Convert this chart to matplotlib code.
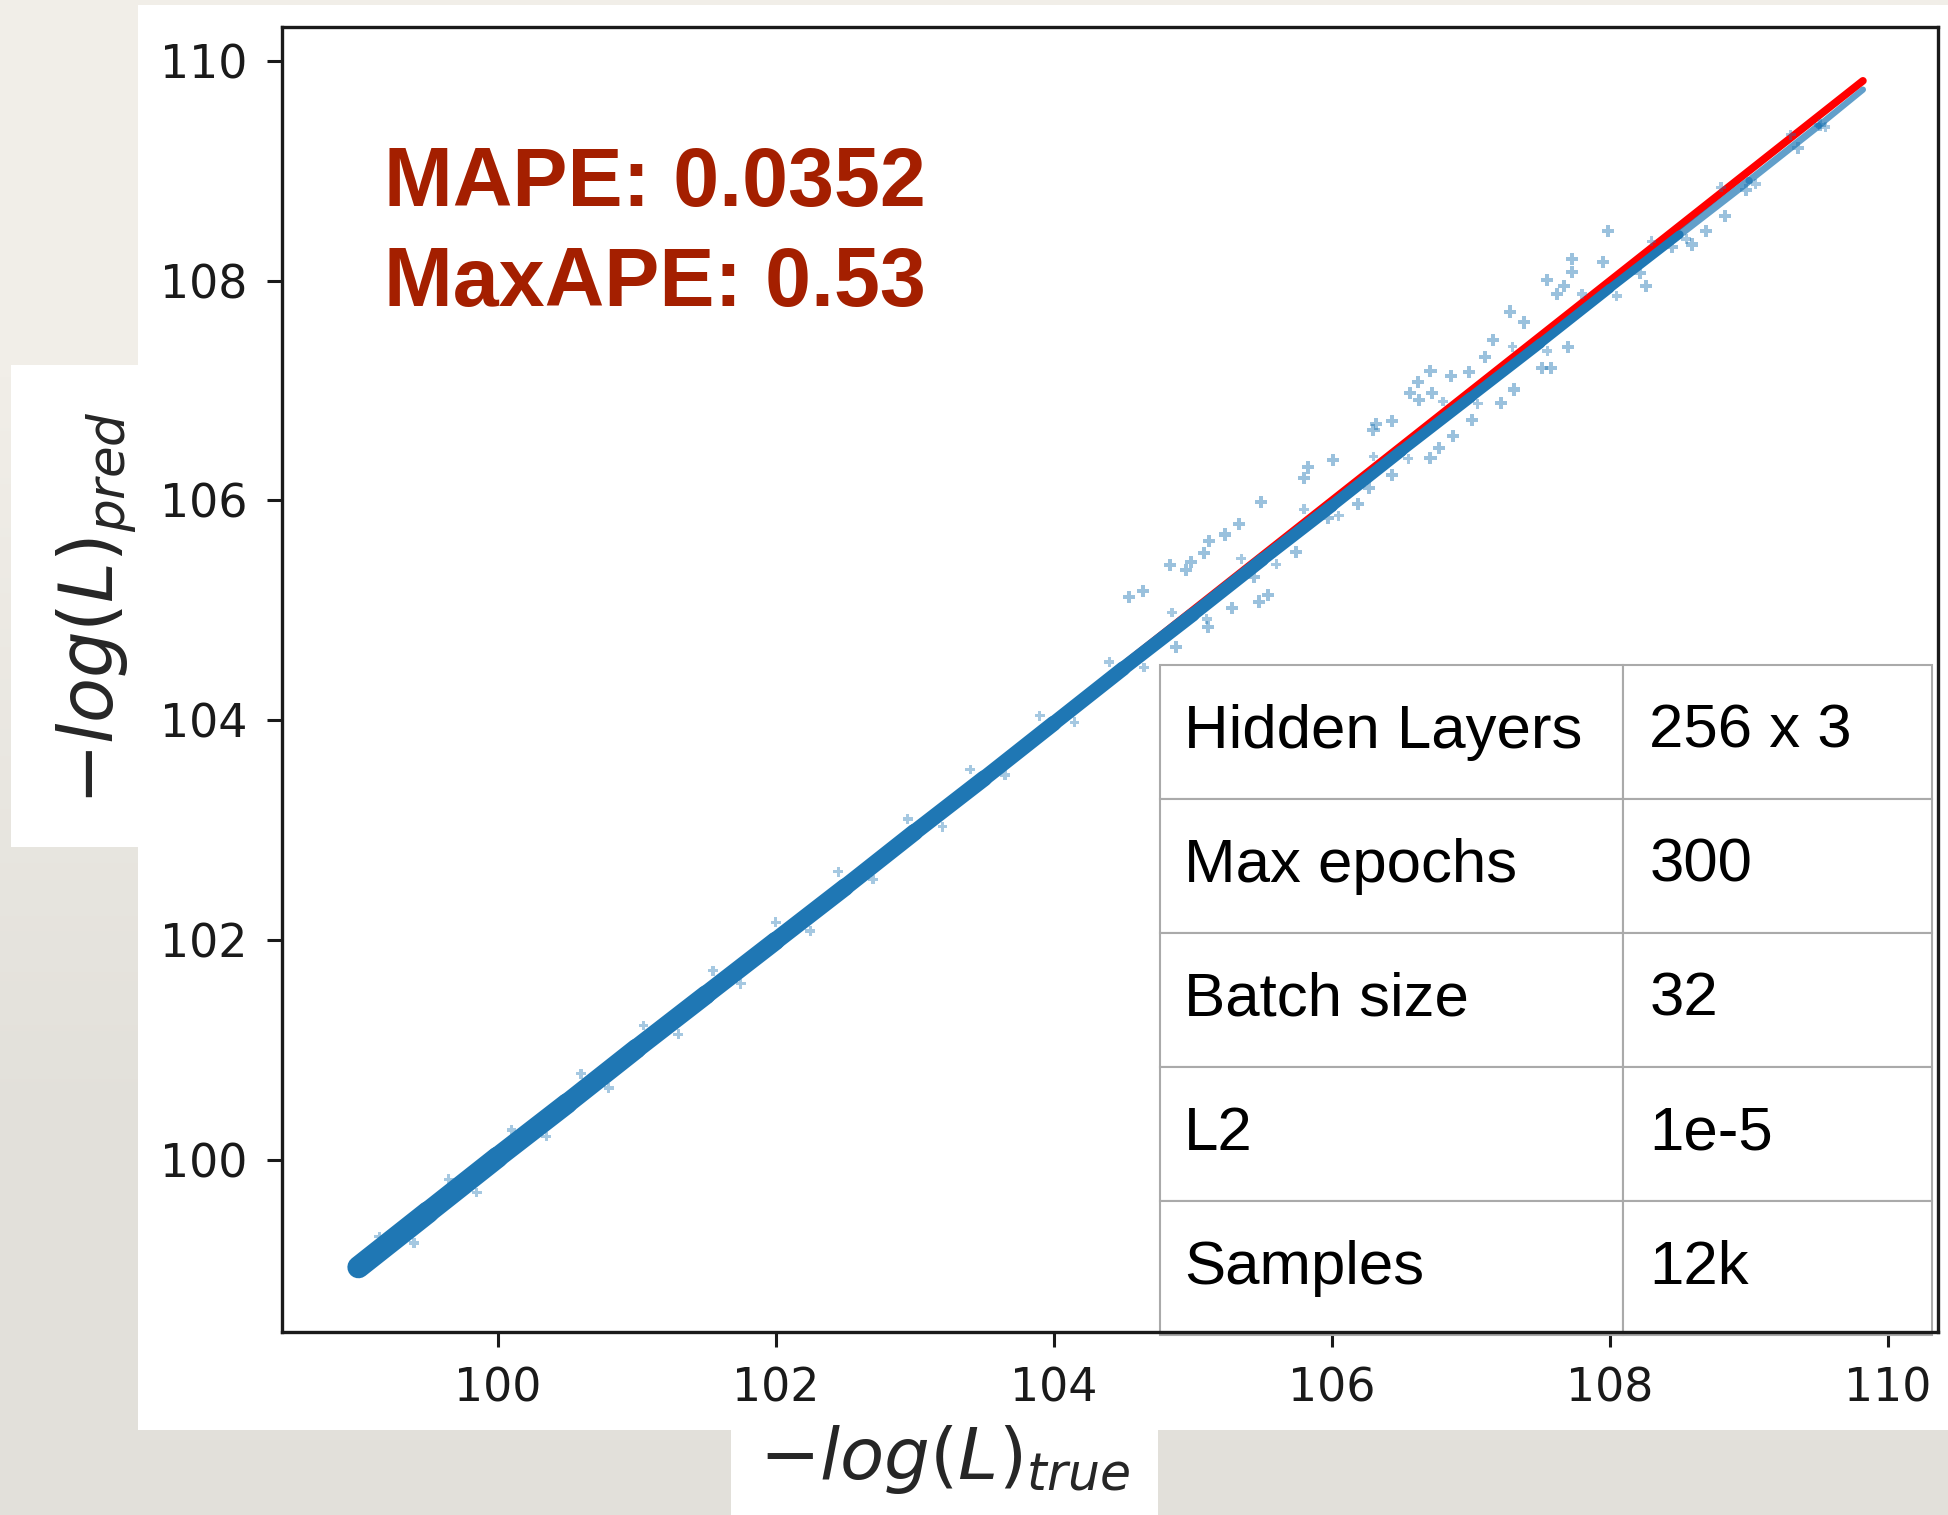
import matplotlib
matplotlib.use("Agg")
import matplotlib.pyplot as plt
import numpy as np
from matplotlib.collections import LineCollection
from matplotlib.patches import Rectangle

# centre of the dense point cloud, read along the diagonal
core_true = [99.0, 99.5, 100.0, 100.5, 101.0, 101.5, 102.0, 102.5, 103.0, 103.5,
             104.0, 104.5, 105.0, 105.5, 106.0, 106.5, 107.0, 107.5, 108.0, 108.5,
             109.0, 109.5, 109.82]
core_pred = [99.02, 99.52, 100.02, 100.51, 101.01, 101.50, 101.99, 102.48, 102.98, 103.47,
             103.97, 104.47, 104.96, 105.46, 105.95, 106.45, 106.94, 107.43, 107.93, 108.42,
             108.91, 109.41, 109.74]

# loose points at the edge of the band
fringe_true = [99.15, 99.40, 99.65, 99.85, 100.10, 100.35, 100.60, 100.80, 101.05, 101.30,
               101.55, 101.75, 102.00, 102.25, 102.45, 102.70, 102.95, 103.20, 103.40, 103.65,
               103.90, 104.15, 104.40, 104.65, 104.85, 105.10, 105.35, 105.60, 105.80, 106.05,
               106.30, 106.55, 106.80, 107.05, 107.30, 107.55, 107.80, 108.05, 108.30, 108.55,
               108.80, 109.05, 109.30, 109.55]
fringe_pred = [99.30, 99.24, 99.82, 99.70, 100.27, 100.21, 100.78, 100.65, 101.22, 101.14,
               101.72, 101.60, 102.16, 102.08, 102.62, 102.55, 103.10, 103.03, 103.55, 103.50,
               104.04, 103.98, 104.53, 104.48, 104.98, 104.92, 105.47, 105.42, 105.92, 105.86,
               106.40, 106.38, 106.90, 106.88, 107.40, 107.36, 107.88, 107.86, 108.36, 108.38,
               108.85, 108.88, 109.33, 109.40]

# scattered outliers (upper-right half of the chart)
outlier_true = [104.54, 104.64, 104.84, 104.95, 104.99, 105.08, 105.12, 105.23, 105.33, 105.49,
                105.80, 105.83, 106.01, 106.30, 106.32, 106.43, 106.56, 106.62, 106.71, 106.72,
                106.63, 106.86, 106.99, 107.10, 107.16, 107.28, 107.38, 107.55, 107.62, 107.67,
                107.73, 107.73, 107.95, 107.99,
                104.88, 105.11, 105.28, 105.44, 105.48, 105.54, 105.74, 105.97, 106.19, 106.27,
                106.43, 106.71, 106.77, 106.87, 107.01, 107.22, 107.31, 107.51, 107.58, 107.70,
                108.22, 108.26, 108.45, 108.59, 108.69, 108.83, 108.98, 109.35, 109.51]
outlier_pred = [105.12, 105.18, 105.41, 105.37, 105.44, 105.52, 105.63, 105.69, 105.79, 105.99,
                106.20, 106.30, 106.37, 106.64, 106.70, 106.72, 106.98, 107.08, 107.18, 106.98,
                106.91, 107.13, 107.17, 107.31, 107.46, 107.72, 107.62, 108.01, 107.88, 107.95,
                108.20, 108.08, 108.17, 108.45,
                104.67, 104.85, 105.02, 105.30, 105.08, 105.14, 105.53, 105.84, 105.97, 106.11,
                106.23, 106.39, 106.48, 106.59, 106.73, 106.89, 107.01, 107.21, 107.21, 107.40,
                108.07, 107.95, 108.31, 108.33, 108.45, 108.59, 108.83, 109.21, 109.42]

# y = x reference line
ideal_true = [99.0, 109.82]
ideal_pred = [99.0, 109.82]

x_ticks = [100, 102, 104, 106, 108, 110]
y_ticks = [100, 102, 104, 106, 108, 110]

table_rows = [["Hidden Layers", "256 x 3"],
              ["Max epochs", "300"],
              ["Batch size", "32"],
              ["L2", "1e-5"],
              ["Samples", "12k"]]

mape_text = "MAPE: 0.0352"
maxape_text = "MaxAPE: 0.53"

W, H = 1948, 1515
BLUE = "#1f77b4"

fig = plt.figure(figsize=(W / 100, H / 100), dpi=100, facecolor="#ebe8e1")

# paper-like backdrop: lighter at the top, greyer at the bottom
bg = fig.add_axes([0, 0, 1, 1], zorder=-10)
bg.imshow([[[241, 238, 232]], [[226, 224, 218]]], aspect="auto",
          interpolation="bilinear", extent=[0, 1, 0, 1])
bg.axis("off")


def px_rect(x0, y0, x1, y1):
    # white panel given in pixel coords (top-left origin)
    return Rectangle((x0 / W, 1 - y1 / H), (x1 - x0) / W, (y1 - y0) / H,
                     transform=fig.transFigure, facecolor="white",
                     edgecolor="none", zorder=0)


fig.add_artist(px_rect(138, 5, 1948, 1430))
fig.add_artist(px_rect(11, 365, 140, 847))
fig.add_artist(px_rect(731, 1430, 1158, 1515))

ax = fig.add_axes([282 / W, 1 - 1332 / H, 1656 / W, 1305 / H])
ax.set_facecolor("white")

# --- red diagonal under the points ---
ax.plot(ideal_true, ideal_pred, color="red", lw=5.5, solid_capstyle="round", zorder=1)

# --- dense band ---
pts = np.column_stack([core_true, core_pred])
segs = [pts[i:i + 2] for i in range(len(pts) - 1)]
widths = np.linspace(16, 4.5, len(segs))
cols = [(0.122, 0.467, 0.706, 1.0)] * (len(segs) - 3) + [(0.122, 0.467, 0.706, 0.7)] * 3
band = LineCollection(segs, linewidths=widths, colors=cols, capstyle="round", zorder=2)
ax.add_collection(band)

ax.scatter(fringe_true, fringe_pred, marker="P", s=50, color=BLUE, alpha=0.4,
           edgecolors="none", zorder=2)
ax.scatter(outlier_true, outlier_pred, marker="P", s=75, color=BLUE, alpha=0.45,
           edgecolors="none", zorder=3)

ax.set_xlim(98.45, 110.36)
ax.set_ylim(98.43, 110.31)
ax.set_xticks(x_ticks)
ax.set_yticks(y_ticks)
ax.tick_params(labelsize=33, length=11, width=2.2, pad=14, colors="#1a1a1a")
for s in ax.spines.values():
    s.set_linewidth(2.4)
    s.set_color("#1a1a1a")
    s.set_zorder(7)

# --- parameter table ---
tbl = ax.table(cellText=table_rows, colWidths=[0.6, 0.4], cellLoc="left",
               bbox=[0.5302, -0.0023, 0.4662, 0.5134], zorder=6)
tbl.auto_set_font_size(False)
tbl.set_fontsize(44.5)
for (r, c), cell in tbl.get_celld().items():
    cell.set_edgecolor("#aaaaaa")
    cell.set_linewidth(1.5)
    cell.set_facecolor("white")
    cell.PAD = 0.052 if c == 0 else 0.085
    cell.get_text().set_fontfamily("Liberation Sans")
    cell.get_text().set_color("black")

# --- error annotation ---
fig.text(384 / W, 1 - 206 / H, mape_text, fontsize=59.5, fontweight="bold",
         family="Liberation Sans", color="#a41f00", ha="left", va="baseline")
fig.text(384 / W, 1 - 306 / H, maxape_text, fontsize=59.5, fontweight="bold",
         family="Liberation Sans", color="#a41f00", ha="left", va="baseline")

# --- axis labels on their own white patches ---
fig.text(945 / W, 1 - 1460 / H, r"$-log(L)_{true}$", fontsize=52,
         ha="center", va="center", color="#262626")
fig.text(97 / W, 1 - 608 / H, r"$-log(L)_{pred}$", fontsize=53, rotation=90,
         ha="center", va="center", color="#262626")

fig.savefig("out.png", dpi=100, facecolor=fig.get_facecolor())
